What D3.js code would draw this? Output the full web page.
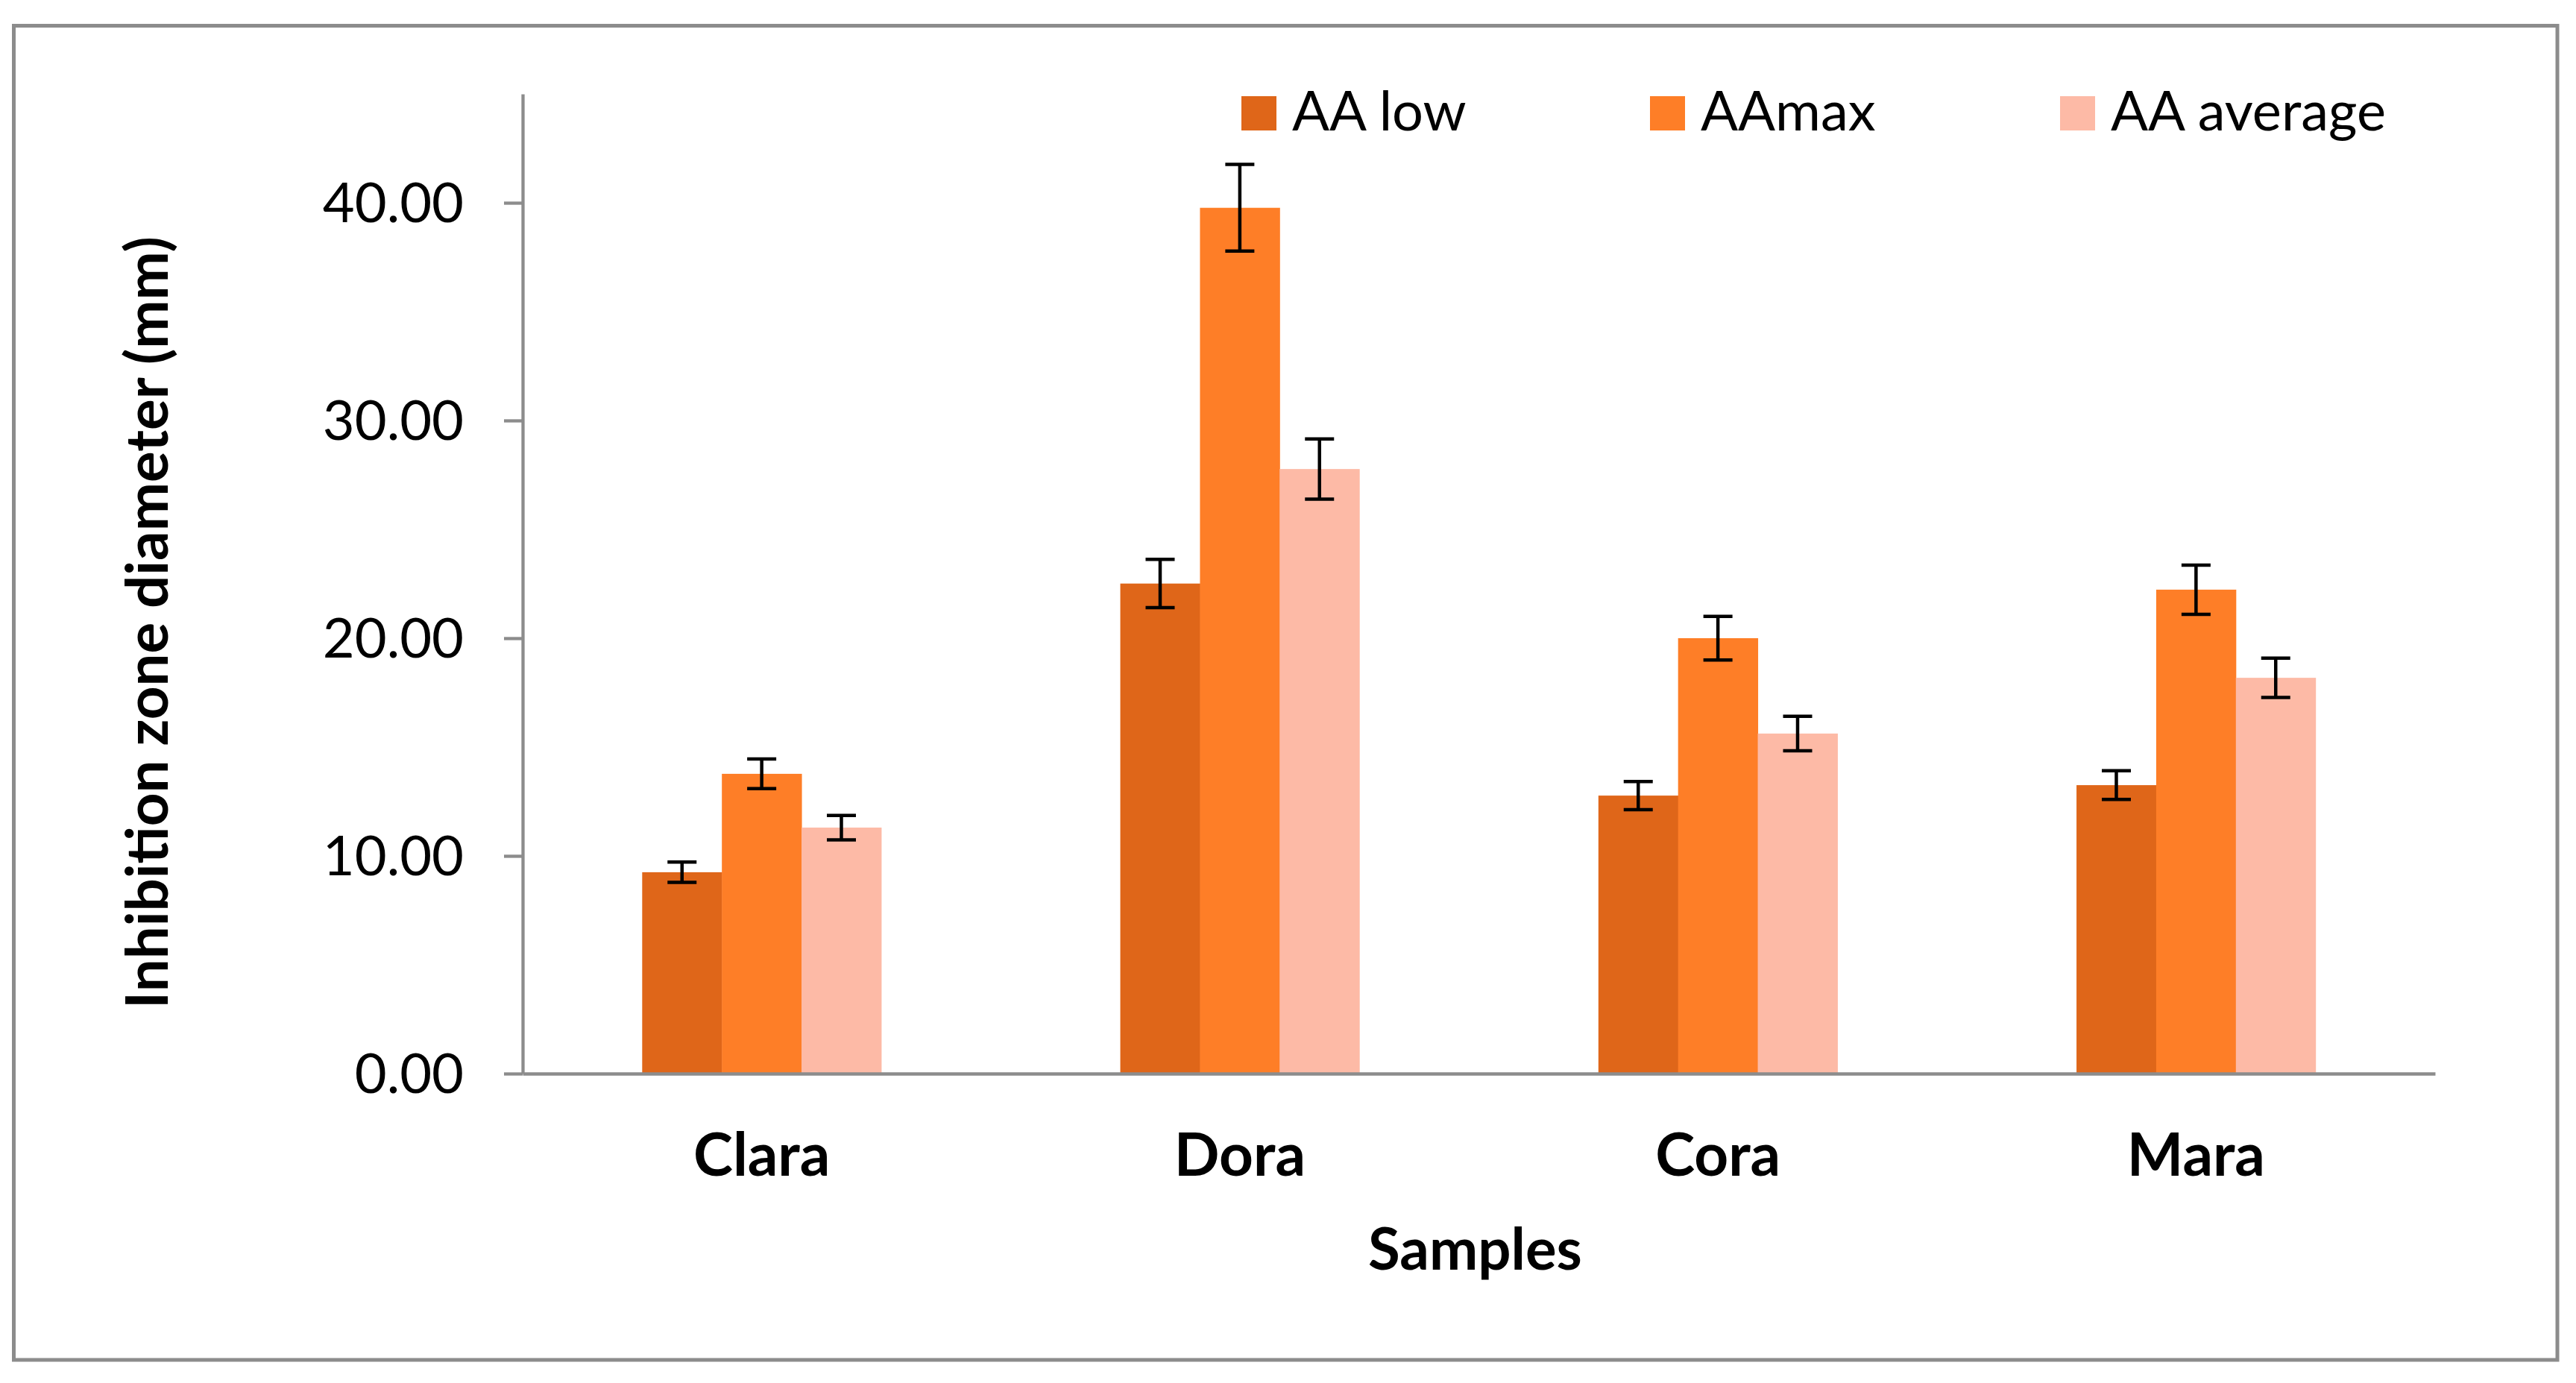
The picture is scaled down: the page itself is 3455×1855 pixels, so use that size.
<!DOCTYPE html>
<html>
<head>
<meta charset="utf-8">
<script src="https://cdn.jsdelivr.net/npm/d3@7"></script>
<style>
  html, body { margin: 0; padding: 0; background: #ffffff; }
  svg { display: block; }
</style>
</head>
<body>
<script>
// ---- Data ----
const categories = ["Clara", "Dora", "Cora", "Mara"];
const seriesNames = ["AA low", "AAmax", "AA average"];
const aaLow = [9.25, 22.51, 12.77, 13.25];
const aaMax = [13.77, 39.77, 20.00, 22.23];
const aaAverage = [11.30, 27.77, 15.62, 18.18];
const errLow = [0.47, 1.11, 0.65, 0.66];
const errMax = [0.68, 1.99, 1.00, 1.13];
const errAverage = [0.56, 1.38, 0.79, 0.90];
const yTickValues = [0, 10, 20, 30, 40];
const seriesColors = ["#DF6619", "#FE7E27", "#FDBAA6"];
const yTitle = "Inhibition zone diameter (mm)";
const xTitle = "Samples";

const W = 3455, H = 1855;
const FONT = "Lato, 'Open Sans', 'Liberation Sans', sans-serif";
const GRAY = "#8c8c8c";

const seriesValues = [aaLow, aaMax, aaAverage];
const seriesErrors = [errLow, errMax, errAverage];

const svg = d3.select("body").append("svg")
  .attr("width", W).attr("height", H)
  .attr("viewBox", `0 0 ${W} ${H}`);

svg.append("rect").attr("x", 0).attr("y", 0).attr("width", W).attr("height", H).attr("fill", "#fff");

// outer chart border
svg.append("rect")
  .attr("x", 18.5).attr("y", 34.5)
  .attr("width", 3430 - 18.5).attr("height", 1824 - 34.5)
  .attr("fill", "none").attr("stroke", GRAY).attr("stroke-width", 5);

const plotLeft = 701, plotRight = 3266, plotTop = 126, plotBottom = 1440;

const y = d3.scaleLinear().domain([0, 45]).range([plotBottom, plotTop]);
const x0 = d3.scaleBand().domain(categories).range([plotLeft, plotRight])
  .paddingInner(0.5).paddingOuter(0.25);
const x1 = d3.scaleBand().domain(seriesNames).range([0, x0.bandwidth()]);

// bars
const data = [];
categories.forEach((c, i) => {
  seriesNames.forEach((s, j) => {
    data.push({ cat: c, ser: s, j: j, v: seriesValues[j][i], e: seriesErrors[j][i] });
  });
});

const g = svg.append("g");
g.selectAll("rect.bar").data(data).enter().append("rect")
  .attr("class", "bar")
  .attr("x", d => x0(d.cat) + x1(d.ser))
  .attr("width", x1.bandwidth() + 0.5)
  .attr("y", d => y(d.v))
  .attr("height", d => y(0) - y(d.v))
  .attr("fill", d => seriesColors[d.j]);

// error bars
const capW = 39;
const eb = g.selectAll("g.err").data(data).enter().append("g").attr("class", "err")
  .attr("stroke", "#000").attr("stroke-width", 4.5);
eb.append("line")
  .attr("x1", d => x0(d.cat) + x1(d.ser) + x1.bandwidth() / 2)
  .attr("x2", d => x0(d.cat) + x1(d.ser) + x1.bandwidth() / 2)
  .attr("y1", d => y(d.v + d.e)).attr("y2", d => y(d.v - d.e));
eb.append("line")
  .attr("x1", d => x0(d.cat) + x1(d.ser) + x1.bandwidth() / 2 - capW / 2)
  .attr("x2", d => x0(d.cat) + x1(d.ser) + x1.bandwidth() / 2 + capW / 2)
  .attr("y1", d => y(d.v + d.e)).attr("y2", d => y(d.v + d.e));
eb.append("line")
  .attr("x1", d => x0(d.cat) + x1(d.ser) + x1.bandwidth() / 2 - capW / 2)
  .attr("x2", d => x0(d.cat) + x1(d.ser) + x1.bandwidth() / 2 + capW / 2)
  .attr("y1", d => y(d.v - d.e)).attr("y2", d => y(d.v - d.e));

// y axis
const yAxis = svg.append("g").attr("transform", `translate(${plotLeft},0)`)
  .call(d3.axisLeft(y).tickValues(yTickValues).tickFormat(d3.format(".2f"))
    .tickSizeInner(25).tickSizeOuter(0).tickPadding(54));
yAxis.select(".domain").attr("stroke", GRAY).attr("stroke-width", 4.3);
yAxis.selectAll(".tick line").attr("stroke", GRAY).attr("stroke-width", 4.3);
yAxis.selectAll(".tick text")
  .attr("font-family", FONT).attr("font-size", 74).attr("fill", "#000")
  .attr("dy", "0.34em");

// x axis
const xAxis = svg.append("g").attr("transform", `translate(0,${plotBottom})`)
  .call(d3.axisBottom(x0).tickSizeInner(0).tickSizeOuter(0).tickPadding(80));
xAxis.select(".domain").attr("stroke", GRAY).attr("stroke-width", 4.3);
xAxis.selectAll(".tick text")
  .attr("font-family", FONT).attr("font-size", 80).attr("font-weight", "bold").attr("fill", "#000")
  .attr("dy", "0.71em");

// axis titles
svg.append("text")
  .attr("x", (plotLeft + plotRight) / 2 - 5).attr("y", 1703)
  .attr("text-anchor", "middle")
  .attr("font-family", FONT).attr("font-size", 78).attr("font-weight", "bold")
  .text(xTitle);

svg.append("text")
  .attr("transform", "translate(225,835) rotate(-90)")
  .attr("text-anchor", "middle")
  .attr("font-family", FONT).attr("font-size", 78).attr("font-weight", "bold")
  .text(yTitle);

// legend
const legendX = [1665, 2213, 2763];
const lg = svg.selectAll("g.legend").data(seriesNames).enter().append("g")
  .attr("class", "legend")
  .attr("transform", (d, i) => `translate(${legendX[i]},129)`);
lg.append("rect").attr("x", 0).attr("y", 0).attr("width", 47).attr("height", 46)
  .attr("fill", (d, i) => seriesColors[i]);
lg.append("text").attr("x", 68).attr("y", 46)
  .attr("font-family", FONT).attr("font-size", 74).attr("fill", "#000")
  .text(d => d);
</script>
</body>
</html>
